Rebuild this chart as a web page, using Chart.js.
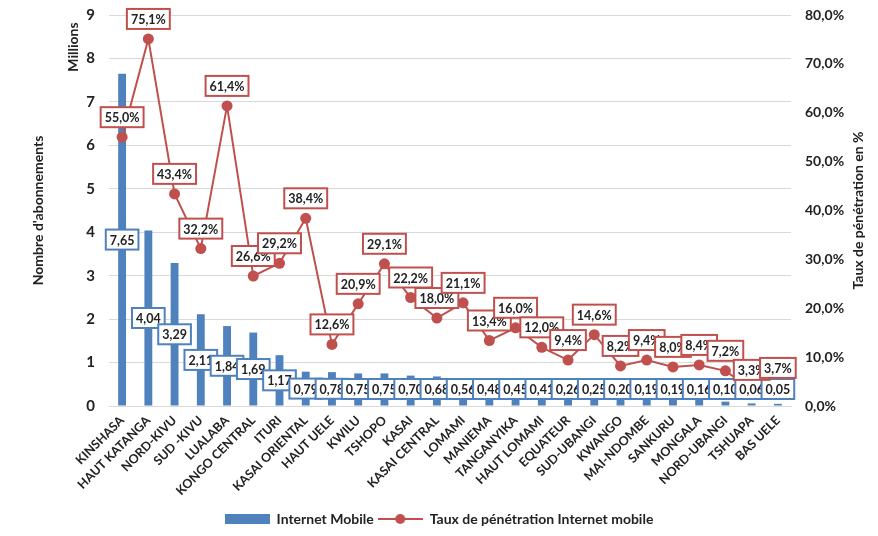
<!DOCTYPE html>
<html>
<head>
<meta charset="utf-8">
<script src="https://cdn.jsdelivr.net/npm/chart.js@4.4.0/dist/chart.umd.min.js"></script>
<style>
  html, body { margin: 0; padding: 0; background: #fff; }
  #wrap { width: 878px; height: 536px; }
</style>
</head>
<body>
<div id="wrap"><canvas id="myChart" width="878" height="536"></canvas></div>
<script>
// provinces
var provinces = ['KINSHASA', 'HAUT KATANGA', 'NORD-KIVU', 'SUD -KIVU', 'LUALABA', 'KONGO CENTRAL',
  'ITURI', 'KASAI ORIENTAL', 'HAUT UELE', 'KWILU', 'TSHOPO', 'KASAI', 'KASAI CENTRAL', 'LOMAMI',
  'MANIEMA', 'TANGANYIKA', 'HAUT LOMAMI', 'EQUATEUR', 'SUD-UBANGI', 'KWANGO', 'MAI-NDOMBE',
  'SANKURU', 'MONGALA', 'NORD-UBANGI', 'TSHUAPA', 'BAS UELE'];

// abonnements internet mobile (millions)
var abonnes = [7.65, 4.04, 3.29, 2.11, 1.84, 1.69, 1.17, 0.79, 0.78, 0.75, 0.75, 0.70, 0.68,
  0.56, 0.48, 0.45, 0.41, 0.26, 0.25, 0.20, 0.19, 0.19, 0.16, 0.10, 0.06, 0.05];

// taux de penetration (%)
var taux = [55.0, 75.1, 43.4, 32.2, 61.4, 26.6, 29.2, 38.4, 12.6, 20.9, 29.1, 22.2, 18.0,
  21.1, 13.4, 16.0, 12.0, 9.4, 14.6, 8.2, 9.4, 8.0, 8.4, 7.2, 3.3, 3.7];

var leftTicks = [0, 9, 1];
var rightTicks = [0, 80, 10];

var BLEU = '#4f81bd';
var ROUGE = '#c0504d';
var POLICE = 'Lato, "Open Sans", sans-serif';

function virgule(n, d){
  return n.toFixed(d).replace('.', ',');
}

// petites icones pour la legende
function iconeBarre(){
  var c = document.createElement('canvas');
  c.width = 45; c.height = 12;
  var x = c.getContext('2d');
  x.fillStyle = BLEU;
  x.fillRect(0, 1, 45, 10);
  return c;
}
function iconeLigne(){
  var c = document.createElement('canvas');
  c.width = 45; c.height = 12;
  var x = c.getContext('2d');
  x.strokeStyle = ROUGE;
  x.lineWidth = 2;
  x.beginPath(); x.moveTo(0, 6); x.lineTo(45, 6); x.stroke();
  x.fillStyle = ROUGE;
  x.beginPath(); x.arc(22.5, 6, 5, 0, Math.PI * 2); x.fill();
  return c;
}

function boite(ctx, txt, cx, cy, couleur){
  ctx.font = 'bold 12.5px ' + POLICE;
  var w = ctx.measureText(txt).width + 8;
  var h = 20;
  ctx.fillStyle = '#fff';
  ctx.fillRect(cx - w / 2, cy - h / 2, w, h);
  ctx.strokeStyle = couleur;
  ctx.lineWidth = 2;
  ctx.strokeRect(cx - w / 2, cy - h / 2, w, h);
  ctx.fillStyle = '#222';
  ctx.textAlign = 'center';
  ctx.textBaseline = 'middle';
  ctx.fillText(txt, cx, cy + 1);
}

var etiquettes = {
  id: 'etiquettes',
  afterDatasetsDraw: function(chart){
    var ctx = chart.ctx;
    var area = chart.chartArea;
    ctx.save();
    var barres = chart.getDatasetMeta(1).data;
    for (var i = 0; i < barres.length; i++) {
      var b = barres[i];
      var cy = Math.min((b.y + b.base) / 2, area.bottom - 17);
      boite(ctx, virgule(abonnes[i], 2), b.x, cy, BLEU);
    }
    var points = chart.getDatasetMeta(0).data;
    for (var j = 0; j < points.length; j++) {
      var p = points[j];
      boite(ctx, virgule(taux[j], 1) + '%', p.x, p.y - 20, ROUGE);
    }
    ctx.restore();
  }
};

var titresAxes = {
  id: 'titresAxes',
  afterDraw: function(chart){
    var ctx = chart.ctx;
    var area = chart.chartArea;
    var milieu = (area.top + area.bottom) / 2;
    ctx.save();
    ctx.fillStyle = '#222';
    ctx.textAlign = 'center';
    ctx.textBaseline = 'middle';
    ctx.font = 'bold 14px ' + POLICE;

    ctx.save();
    ctx.translate(38, milieu);
    ctx.rotate(-Math.PI / 2);
    ctx.fillText("Nombre d'abonnements", 0, 0);
    ctx.restore();

    ctx.save();
    ctx.translate(73, 47);
    ctx.rotate(-Math.PI / 2);
    ctx.fillText('Millions', 0, 0);
    ctx.restore();

    ctx.save();
    ctx.translate(858, milieu);
    ctx.rotate(-Math.PI / 2);
    ctx.fillText('Taux de pénétration en %', 0, 0);
    ctx.restore();

    ctx.restore();
  }
};

// largeur fixe des axes verticaux, sans marge haut/bas
function axeFixe(largeur){
  return function(scale){
    scale.width = largeur;
    scale.paddingTop = 0;
    scale.paddingBottom = 0;
  };
}

var ctx = document.getElementById('myChart').getContext('2d');
var myChart = new Chart(ctx, {
  type: 'bar',
  data: {
    labels: provinces,
    datasets: [{
      type: 'line',
      label: 'Taux de pénétration Internet mobile',
      data: taux,
      yAxisID: 'y1',
      borderColor: ROUGE,
      backgroundColor: ROUGE,
      borderWidth: 2,
      pointRadius: 5.5,
      pointHoverRadius: 5.5,
      pointBackgroundColor: ROUGE,
      pointBorderWidth: 0,
      tension: 0,
      order: 0
    }, {
      type: 'bar',
      label: 'Internet Mobile',
      data: abonnes,
      yAxisID: 'y',
      backgroundColor: BLEU,
      barPercentage: 0.3,
      categoryPercentage: 1,
      order: 1
    }]
  },
  options: {
    responsive: false,
    animation: false,
    layout: { padding: { top: 15, left: 0, right: 0, bottom: 0 } },
    plugins: {
      tooltip: { enabled: false },
      legend: {
        position: 'bottom',
        labels: {
          usePointStyle: true,
          pointStyleWidth: 45,
          boxHeight: 12,
          padding: 4,
          color: '#222',
          font: { family: POLICE, size: 14, weight: 'bold' },
          generateLabels: function(chart){
            return [
              { text: 'Internet Mobile', pointStyle: iconeBarre(), datasetIndex: 1, hidden: false, fontColor: '#222', lineWidth: 0 },
              { text: 'Taux de pénétration Internet mobile', pointStyle: iconeLigne(), datasetIndex: 0, hidden: false, fontColor: '#222', lineWidth: 0 }
            ];
          }
        }
      }
    },
    scales: {
      x: {
        grid: { display: false, drawTicks: false },
        border: { display: true, color: '#d9d9d9' },
        ticks: {
          maxRotation: 45,
          minRotation: 45,
          autoSkip: false,
          padding: 7,
          color: '#222',
          font: { family: POLICE, size: 12.5, weight: 'bold' }
        },
        afterFit: function(scale){ scale.height = 102; }
      },
      y: {
        position: 'left',
        min: leftTicks[0],
        max: leftTicks[1],
        ticks: {
          stepSize: leftTicks[2],
          padding: 14,
          color: '#222',
          font: { family: POLICE, size: 15, weight: 'bold' }
        },
        grid: { color: '#d9d9d9', drawTicks: false },
        border: { display: false },
        afterFit: axeFixe(109)
      },
      y1: {
        position: 'right',
        min: rightTicks[0],
        max: rightTicks[1],
        ticks: {
          stepSize: rightTicks[2],
          padding: 14,
          color: '#222',
          font: { family: POLICE, size: 14, weight: 'bold' },
          callback: function(v){ return virgule(v, 1) + '%'; }
        },
        grid: { display: false, drawTicks: false },
        border: { display: false },
        afterFit: axeFixe(87)
      }
    }
  },
  plugins: [etiquettes, titresAxes]
});
</script>
</body>
</html>
